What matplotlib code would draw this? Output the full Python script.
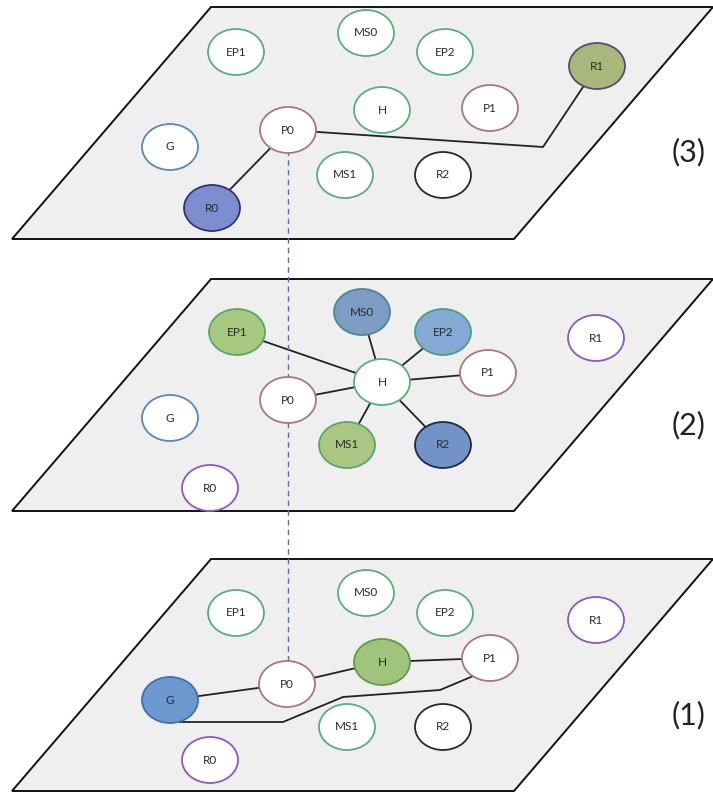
import matplotlib
matplotlib.use("Agg")
import matplotlib.pyplot as plt
from matplotlib.patches import Ellipse, Polygon

# ---------------- data ----------------
node_names = ["EP1", "MS0", "EP2", "R1", "H", "P1", "P0", "G", "MS1", "R2", "R0"]
node_x = {
    1: [236, 366, 445, 596, 382, 490, 287, 170, 347, 443, 210],
    2: [237, 362, 443, 596, 382, 488, 288, 170, 347, 443, 210],
    3: [236, 366, 445, 597, 382, 490, 288, 170, 345, 443, 212],
}
# vertical offsets of node centres from each layer's top edge
node_dy = {
    1: [54, 34, 54, 61, 103, 99, 125, 141, 168, 168, 201],
    2: [53, 33, 53, 59, 103, 94, 121, 139, 166, 166, 209],
    3: [45, 26, 45, 59, 103, 101, 123, 140, 168, 168, 201],
}
layer_top = {1: 559, 2: 279, 3: 7}
layer_labels = {1: "(1)", 2: "(2)", 3: "(3)"}
label_dy = {1: 156, 2: 146, 3: 145}

# base outline colours of node types
base_edge = {"EP1": "#5aae7c", "MS0": "#5aae7c", "EP2": "#5aae7c", "H": "#5aae7c",
             "MS1": "#5aae7c", "P0": "#a87878", "P1": "#a87878", "G": "#5a88b8",
             "R2": "#2a2a2a", "R1": "#8a5ac0", "R0": "#8a5ac0"}
# highlighted nodes per layer: name -> (fill, edge)
highlight = {
    1: {"H": ("#a0c47c", "#5f9a4a"), "G": ("#6c98d0", "#3f70b0")},
    2: {"EP1": ("#a7c87f", "#5aa66a"), "MS0": ("#7e9dc4", "#4a8888"),
        "EP2": ("#84a9d4", "#4a9f80"), "MS1": ("#a9c782", "#5aa66a"),
        "R2": ("#7293c7", "#1e2a40")},
    3: {"R1": ("#aab77c", "#5a4a6a"), "R0": ("#7d8ed0", "#2e3470")},
}

# links per layer (node to node)
links = {
    1: [("G", "P0"), ("P0", "H"), ("H", "P1")],
    2: [("H", "EP1"), ("H", "MS0"), ("H", "EP2"), ("H", "P1"),
        ("H", "R2"), ("H", "MS1"), ("H", "P0")],
    3: [("P0", "R0")],
}
# routed paths (absolute coordinates in picture space)
path3_x = [288, 543, 597]
path3_y = [130, 147, 66]
path1_x = [180, 283, 343, 440, 478]
path1_y = [722, 722, 697, 690, 674]
dash_x = 288
dash_y = [150, 665]

panel_h = 232
panel_shear = 199
panel_x0 = 12
panel_w = 502

# ---------------- drawing ----------------
W, H = 713, 794
fig = plt.figure(figsize=(W / 100, H / 100), dpi=100)
ax = fig.add_axes([0, 0, 1, 1])
ax.set_xlim(0, W)
ax.set_ylim(H, 0)
ax.axis("off")

font = ["Lato", "DejaVu Sans"]
node_w, node_h = 56, 46

for layer in (3, 2, 1):
    top = layer_top[layer]
    bot = top + panel_h
    poly = Polygon([(panel_x0 + panel_shear, top), (panel_x0 + panel_shear + panel_w, top),
                    (panel_x0 + panel_w, bot), (panel_x0, bot)],
                   closed=True, facecolor="#efefef", edgecolor="#111111", lw=1.4, zorder=1)
    ax.add_patch(poly)
    pos = {n: (node_x[layer][i], top + node_dy[layer][i]) for i, n in enumerate(node_names)}
    for a, b in links[layer]:
        ax.plot([pos[a][0], pos[b][0]], [pos[a][1], pos[b][1]], color="#222222",
                lw=1.3, zorder=3, solid_capstyle="butt")
    for n in node_names:
        fill, edge = "white", base_edge[n]
        if n in highlight[layer]:
            fill, edge = highlight[layer][n]
        e = Ellipse(pos[n], node_w, node_h, facecolor=fill, edgecolor=edge, lw=1.3, zorder=5)
        ax.add_patch(e)
        ax.text(pos[n][0], pos[n][1], n, ha="center", va="center", fontsize=8.5,
                color="#2a2a2a", family=font, zorder=6)
    ax.text(689, top + label_dy[layer], layer_labels[layer], ha="center", va="center",
            fontsize=22, color="#222222", family=font, zorder=6)

ax.plot(path3_x, path3_y, color="#222222", lw=1.3, zorder=3)
ax.plot(path1_x, path1_y, color="#222222", lw=1.3, zorder=3)
ax.plot([dash_x, dash_x], dash_y, color="#5b6ea8", lw=1.0, dashes=(4, 3), zorder=4)

fig.savefig("out.png", dpi=100, facecolor="white")
